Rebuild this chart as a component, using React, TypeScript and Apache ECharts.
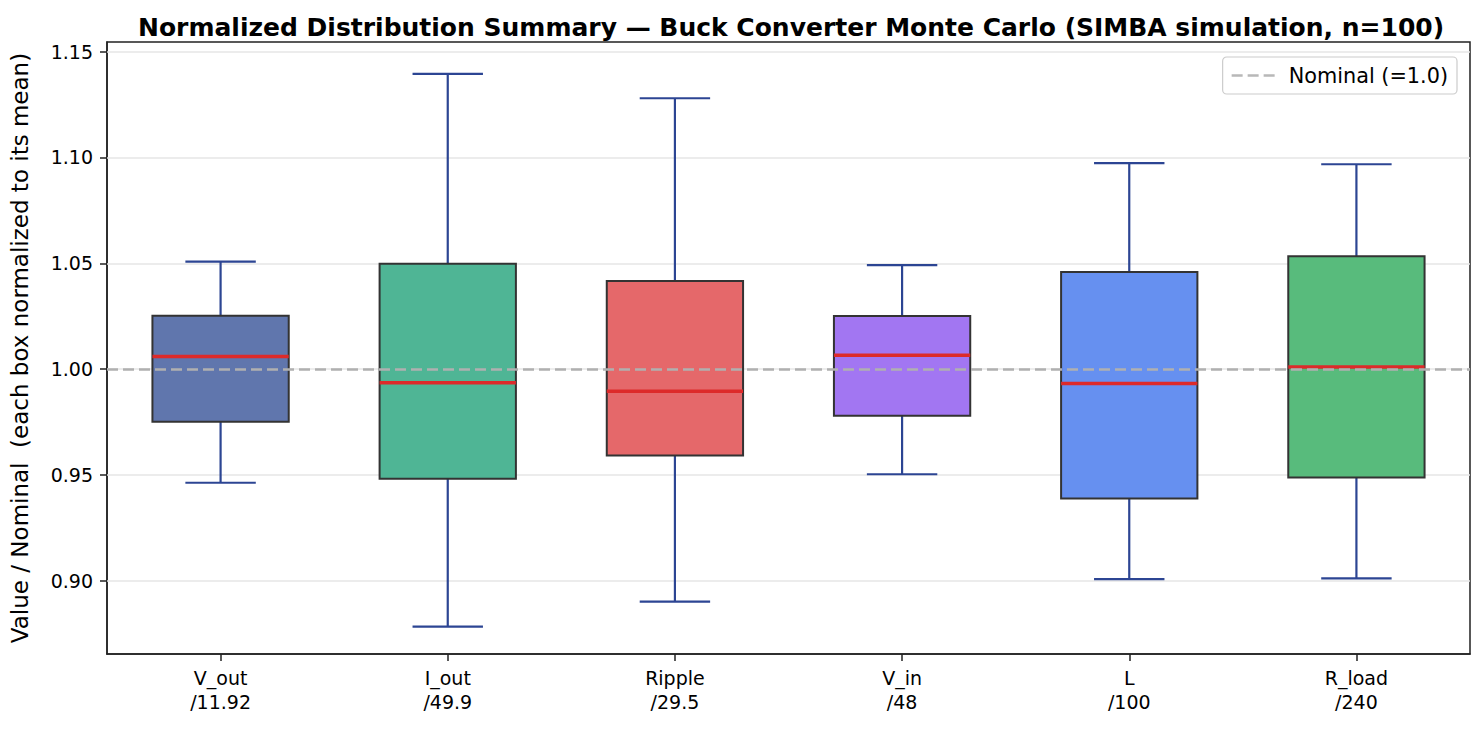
import * as echarts from "echarts";
import { useEffect, useRef } from "react";

const paramNames = ["V_out", "I_out", "Ripple", "V_in", "L", "R_load"];
const nominalLabels = ["11.92", "49.9", "29.5", "48", "100", "240"];

// normalized stats
const whiskerLow = [0.9463, 0.8783, 0.8901, 0.9503, 0.9007, 0.9011];
const q1 = [0.9751, 0.9482, 0.9592, 0.978, 0.9389, 0.9488];
const median = [1.0059, 0.9936, 0.9895, 1.0065, 0.9932, 1.001];
const q3 = [1.0252, 1.0498, 1.0416, 1.0251, 1.0459, 1.0533];
const whiskerHigh = [1.0508, 1.1395, 1.128, 1.0491, 1.0973, 1.0968];

const boxColors = ["#6076ad", "#4fb595", "#e5686a", "#a276f2", "#6690f0", "#58bb7c"];

const yTicks = [0.9, 0.95, 1.0, 1.05, 1.1, 1.15];
const nominalValue = 1.0;

const FONT = "DejaVu Sans";

function getOption() {
  const categories = paramNames.map((n, i) => `${n}\n/${nominalLabels[i]}`);
  const boxData = paramNames.map((_, i) => [
    i,
    whiskerLow[i],
    q1[i],
    median[i],
    q3[i],
    whiskerHigh[i],
  ]);

  return {
    animation: false,
    textStyle: { fontFamily: FONT },
    title: {
      text: "Normalized Distribution Summary — Buck Converter Monte Carlo (SIMBA simulation, n=100)",
      left: 133,
      top: 10,
      textStyle: { fontFamily: FONT, fontSize: 25, fontWeight: "bold", color: "#000" },
    },
    legend: {
      right: 27,
      top: 57,
      orient: "vertical",
      backgroundColor: "#fff",
      borderColor: "#cccccc",
      borderWidth: 1.2,
      borderRadius: 4,
      padding: [8, 9, 8, 9],
      itemWidth: 43,
      itemHeight: 2.5,
      itemGap: 0,
      data: [
        {
          name: "Nominal (=1.0)",
          icon: "path://M0,0h11v2.5h-11z M16,0h11v2.5h-11z M32,0h11v2.5h-11z",
        },
      ],
      itemStyle: { color: "#b8b8b8" },
      textStyle: {
        fontFamily: FONT,
        fontSize: 20.8,
        color: "#000",
        padding: [0, 0, 0, 9],
      },
    },
    grid: {
      left: 107,
      right: 14,
      top: 42,
      bottom: 80,
      show: true,
      borderColor: "#222",
      borderWidth: 1.5,
    },
    xAxis: {
      type: "category",
      data: categories,
      boundaryGap: true,
      axisLine: { show: true, lineStyle: { color: "#222", width: 1.5 } },
      axisTick: {
        show: true,
        alignWithLabel: true,
        length: 7,
        lineStyle: { color: "#222", width: 1.5 },
      },
      axisLabel: {
        fontFamily: FONT,
        fontSize: 19,
        color: "#000",
        lineHeight: 24,
        margin: 12,
      },
      splitLine: { show: false },
    },
    yAxis: {
      type: "value",
      min: 0.86536,
      max: 1.15458,
      name: "Value / Nominal  (each box normalized to its mean)",
      nameLocation: "middle",
      nameRotate: 90,
      nameGap: 76,
      nameTextStyle: { fontFamily: FONT, fontSize: 23, color: "#000" },
      axisLine: { show: true, lineStyle: { color: "#222", width: 1.5 } },
      axisTick: {
        show: true,
        length: 7,
        customValues: yTicks,
        lineStyle: { color: "#222", width: 1.5 },
      },
      axisLabel: {
        fontFamily: FONT,
        fontSize: 19,
        color: "#000",
        margin: 14,
        customValues: yTicks,
        formatter: (v: number) => v.toFixed(2),
      },
      splitLine: { show: false },
    },
    series: [
      {
        name: "gridlines",
        type: "line",
        data: [],
        silent: true,
        markLine: {
          z: 1,
          silent: true,
          symbol: ["none", "none"],
          label: { show: false },
          lineStyle: { color: "#e6e6e6", width: 1.5, type: "solid" },
          data: yTicks.map((v) => ({ yAxis: v })),
        },
      },
      {
        name: "boxes",
        type: "custom",
        z: 2,
        data: boxData,
        encode: { x: 0, y: [1, 2, 3, 4, 5] },
        renderItem: (params: any, api: any) => {
          const idx = api.value(0);
          const pLow = api.coord([idx, api.value(1)]);
          const pQ1 = api.coord([idx, api.value(2)]);
          const pMed = api.coord([idx, api.value(3)]);
          const pQ3 = api.coord([idx, api.value(4)]);
          const pHigh = api.coord([idx, api.value(5)]);
          const band = api.size([1, 0])[0];
          const boxW = band * 0.6;
          const capW = band * 0.31;
          const cx = pMed[0];
          const whiskerStyle = { stroke: "#2c4593", lineWidth: 2.2 };
          return {
            type: "group",
            children: [
              {
                type: "line",
                shape: { x1: cx, y1: pQ3[1], x2: cx, y2: pHigh[1] },
                style: whiskerStyle,
              },
              {
                type: "line",
                shape: { x1: cx, y1: pQ1[1], x2: cx, y2: pLow[1] },
                style: whiskerStyle,
              },
              {
                type: "line",
                shape: { x1: cx - capW / 2, y1: pHigh[1], x2: cx + capW / 2, y2: pHigh[1] },
                style: whiskerStyle,
              },
              {
                type: "line",
                shape: { x1: cx - capW / 2, y1: pLow[1], x2: cx + capW / 2, y2: pLow[1] },
                style: whiskerStyle,
              },
              {
                type: "rect",
                shape: { x: cx - boxW / 2, y: pQ3[1], width: boxW, height: pQ1[1] - pQ3[1] },
                style: { fill: boxColors[params.dataIndex], stroke: "#333333", lineWidth: 2 },
              },
              {
                type: "line",
                shape: { x1: cx - boxW / 2, y1: pMed[1], x2: cx + boxW / 2, y2: pMed[1] },
                style: { stroke: "#dd2a2a", lineWidth: 3.5 },
              },
            ],
          };
        },
      },
      {
        name: "Nominal (=1.0)",
        type: "line",
        data: [],
        color: "#b8b8b8",
        markLine: {
          z: 5,
          silent: true,
          symbol: ["none", "none"],
          label: { show: false },
          lineStyle: { color: "#b0b0b0", width: 2.5, type: [11, 5] },
          data: [{ yAxis: nominalValue }],
        },
      },
    ],
  };
}

export default function App() {
  const ref = useRef<HTMLDivElement>(null);

  useEffect(() => {
    if (!ref.current) return;
    const chart = echarts.init(ref.current, undefined, { renderer: "svg" });
    chart.setOption(getOption());
    return () => {
      chart.dispose();
    };
  }, []);

  return (
    <div
      ref={ref}
      style={{
        position: "fixed",
        left: 0,
        top: 0,
        width: 1484,
        height: 734,
        background: "#fff",
      }}
    />
  );
}
